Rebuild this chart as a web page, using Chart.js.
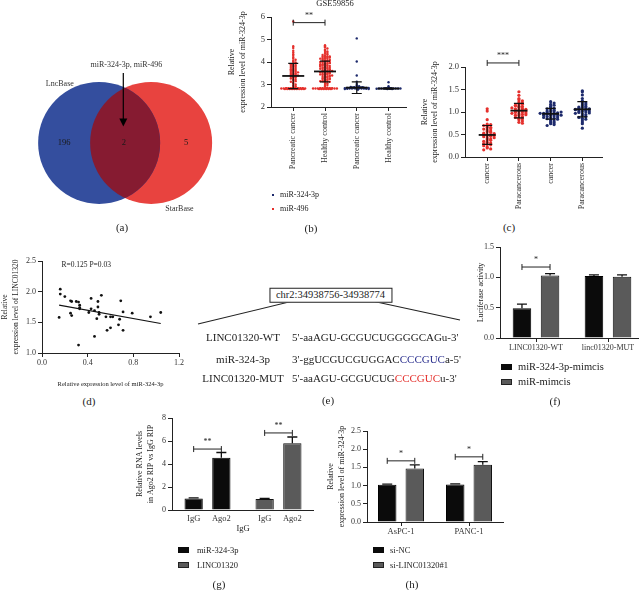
<!DOCTYPE html>
<html><head><meta charset="utf-8">
<script src="https://cdn.jsdelivr.net/npm/chart.js@4.4.0/dist/chart.umd.min.js"></script>
<style>
html,body{margin:0;padding:0;width:639px;height:590px;overflow:hidden;background:#fff}
canvas{position:absolute}
.t{position:absolute;white-space:nowrap;font-family:"Liberation Serif","Times New Roman",serif;color:#222;line-height:1}
.sw{position:absolute}
</style></head><body>
<script>
// ---------------- DATA ----------------
// (a) Venn
const vennSets = ['LncBase', 'StarBase'];
const vennCounts = [196, 2, 5];
const vennNote = 'miR-324-3p, miR-496';

// (b) GSE59856 scatter
const bTitle = 'GSE59856';
const bCategories = ['Pancreatic cancer', 'Healthy control', 'Pancreatic cancer', 'Healthy control'];
const bSeries = ['miR-324-3p', 'miR-496'];
const bPancMiR496 = [5.80, 4.70, 4.62, 4.50, 4.42, 4.35, 4.28, 4.20, 4.15, 4.10, 4.06, 4.02, 3.98, 3.95, 3.92, 3.90, 3.87, 3.85, 3.82, 3.80, 3.78, 3.75, 3.73, 3.70, 3.68, 3.66, 3.64, 3.62, 3.60, 3.58, 3.56, 3.54, 3.52, 3.50, 3.48, 3.46, 3.44, 3.42, 3.40, 3.38, 3.36, 3.34, 3.32, 3.30, 3.27, 3.24, 3.21, 3.18, 3.15, 3.12, 3.08, 3.04, 3.00, 2.96, 2.92, 2.88, 2.84, 2.82, 2.82, 2.82, 2.82, 2.82, 2.82, 2.82, 2.82, 2.82, 2.82, 2.82, 2.82, 2.80, 2.80, 2.80, 2.80, 2.80, 2.80, 2.80, 2.80, 2.80, 2.84, 2.84, 2.84, 2.84, 2.84, 2.84];
const bHealthyMiR496 = [4.75, 4.70, 4.65, 4.60, 4.55, 4.50, 4.47, 4.44, 4.40, 4.37, 4.34, 4.31, 4.28, 4.26, 4.24, 4.22, 4.20, 4.18, 4.16, 4.14, 4.12, 4.10, 4.08, 4.06, 4.04, 4.02, 4.00, 3.98, 3.96, 3.94, 3.92, 3.90, 3.88, 3.86, 3.84, 3.82, 3.80, 3.78, 3.76, 3.74, 3.72, 3.70, 3.68, 3.66, 3.64, 3.62, 3.60, 3.58, 3.56, 3.54, 3.52, 3.50, 3.48, 3.46, 3.44, 3.42, 3.40, 3.38, 3.36, 3.34, 3.32, 3.30, 3.28, 3.26, 3.24, 3.22, 3.20, 3.18, 3.16, 3.14, 3.12, 3.10, 3.06, 3.02, 2.98, 2.94, 2.90, 2.86, 4.25, 4.15, 4.05, 3.95, 3.85, 3.75, 3.65, 3.55, 3.45, 3.35, 3.25, 3.15, 4.20, 4.00, 3.90, 3.80, 3.70, 3.60, 3.50, 3.40, 2.82, 2.82, 2.82, 2.82, 2.82, 2.82, 2.82, 2.82, 2.82, 2.82, 2.82, 2.82, 2.80, 2.80, 2.80, 2.80, 2.80, 2.80, 2.84, 2.84, 2.84, 2.84];
const bPancMiR324 = [5.05, 4.02, 3.40, 3.12, 3.02, 2.96, 2.92, 2.90, 2.88, 2.88, 2.87, 2.86, 2.86, 2.85, 2.85, 2.85, 2.85, 2.84, 2.84, 2.84, 2.84, 2.83, 2.83, 2.83, 2.82, 2.82, 2.82, 2.82, 2.81, 2.81, 2.80, 2.80, 2.79, 2.78, 2.86, 2.87, 2.88, 2.89, 2.84, 2.83];
const bHealthyMiR324 = [3.10, 2.92, 2.86, 2.84, 2.83, 2.83, 2.82, 2.82, 2.82, 2.82, 2.82, 2.82, 2.82, 2.82, 2.81, 2.81, 2.81, 2.80, 2.80, 2.83, 2.84];
const bMeans = [3.38, 3.58, 2.86, 2.82];
const bSD = [0.56, 0.46, 0.26, 0.02];

// (c) tissue scatter
const cCategories = ['cancer', 'Paracancerous', 'cancer', 'Paracancerous'];
const cCancerRed = [1.07, 1.02, 0.83, 0.73, 0.72, 0.70, 0.68, 0.66, 0.65, 0.63, 0.60, 0.58, 0.56, 0.55, 0.53, 0.52, 0.50, 0.50, 0.49, 0.48, 0.47, 0.46, 0.45, 0.43, 0.42, 0.40, 0.38, 0.37, 0.35, 0.33, 0.31, 0.30, 0.28, 0.27, 0.25, 0.22, 0.20, 0.18, 0.16, 0.62];
const cParaRed = [1.45, 1.37, 1.30, 1.27, 1.25, 1.22, 1.20, 1.18, 1.17, 1.15, 1.13, 1.12, 1.10, 1.08, 1.07, 1.06, 1.05, 1.04, 1.03, 1.02, 1.01, 1.00, 0.99, 0.98, 0.97, 0.96, 0.95, 0.93, 0.92, 0.90, 0.88, 0.86, 0.85, 0.83, 0.80, 0.77, 0.75, 1.14, 1.09, 0.94];
const cCancerNavy = [1.23, 1.20, 1.17, 1.15, 1.13, 1.10, 1.08, 1.07, 1.05, 1.04, 1.02, 1.01, 1.00, 0.99, 0.98, 0.97, 0.96, 0.95, 0.95, 0.94, 0.93, 0.92, 0.91, 0.90, 0.89, 0.88, 0.87, 0.86, 0.85, 0.84, 0.82, 0.80, 0.78, 0.76, 0.74, 0.72, 0.70, 1.00, 0.97, 0.93];
const cParaNavy = [1.47, 1.45, 1.38, 1.30, 1.25, 1.22, 1.20, 1.18, 1.16, 1.14, 1.12, 1.10, 1.09, 1.08, 1.07, 1.06, 1.05, 1.04, 1.03, 1.02, 1.01, 1.00, 0.99, 0.98, 0.96, 0.94, 0.92, 0.90, 0.88, 0.86, 0.84, 0.82, 0.78, 0.74, 0.64, 1.11, 1.05, 0.97];
const cMeans = [0.49, 1.03, 0.96, 1.06];
const cSD = [0.21, 0.16, 0.12, 0.17];

// (d) correlation
const dStat = 'R=0.125 P=0.03';
const dMiR = [0.15, 0.16, 0.16, 0.20, 0.25, 0.26, 0.25, 0.26, 0.30, 0.32, 0.33, 0.33, 0.33, 0.32, 0.43, 0.43, 0.46, 0.49, 0.49, 0.50, 0.48, 0.52, 0.50, 0.46, 0.56, 0.57, 0.60, 0.60, 0.62, 0.67, 0.68, 0.69, 0.71, 0.71, 0.79, 0.95, 1.04, 0.41];
const dLinc = [1.58, 2.04, 1.96, 1.92, 1.65, 1.61, 1.85, 1.84, 1.84, 1.83, 1.78, 1.74, 1.72, 1.13, 1.89, 1.72, 1.69, 1.84, 1.75, 1.66, 1.56, 1.94, 1.63, 1.27, 1.59, 1.37, 1.41, 1.59, 1.59, 1.46, 1.55, 1.85, 1.67, 1.37, 1.65, 1.59, 1.66, 1.66];
const dFitX = [0.15, 1.04];
const dFitY = [1.78, 1.48];

// (e) binding sites
const eRegion = 'chr2:34938756-34938774';
const eNames = ['LINC01320-WT', 'miR-324-3p', 'LINC01320-MUT'];
const eSeqs = [["5'-aaAGU-GCGUCUGGGGCAGu-3'", '', ''], ["3'-ggUCGUCGUGGAC", 'CCCGUC', "a-5'"], ["5'-aaAGU-GCGUCUG", 'CCCGUC', "u-3'"]];

// (f) luciferase
const fGroups = ['LINC01320-WT', 'linc01320-MUT'];
const fSeries = ['miR-324-3p-mimcis', 'miR-mimcis'];
const fMimic324 = [0.49, 1.02];
const fMimicNC = [1.03, 1.01];
const fErr324 = [0.07, 0.02];
const fErrNC = [0.03, 0.03];

// (g) RIP
const gGroups = ['miR-324-3p', 'LINC01320'];
const gConditions = ['IgG', 'Ago2'];
const gIgG = [1.00, 0.96];
const gAgo2 = [4.55, 5.80];
const gErrIgG = [0.05, 0.04];
const gErrAgo2 = [0.45, 0.55];
const gAxisTitle = 'IgG';

// (h) knockdown
const hCells = ['AsPC-1', 'PANC-1'];
const hSeries = ['si-NC', 'si-LINC01320#1'];
const hSiNC = [1.02, 1.03];
const hSiLinc = [1.47, 1.57];
const hErrNC = [0.02, 0.02];
const hErrLinc = [0.10, 0.09];

// ---------------- STYLE / HELPERS ----------------
const SERIF = '"Liberation Serif","Times New Roman",serif';
Chart.defaults.font.family = SERIF;
Chart.defaults.color = '#333';
Chart.defaults.animation = false;
Chart.defaults.events = [];
Chart.defaults.plugins.legend.display = false;
Chart.defaults.plugins.tooltip.enabled = false;
const AX = '#222', RED = '#e5302c', NAVY = '#1d2a6c', BLK = '#0b0b0b', GRY = '#5a5a5a';

function mk(left, top, w, h) {
  const c = document.createElement('canvas');
  c.width = w; c.height = h;
  c.style.left = left + 'px'; c.style.top = top + 'px';
  c.style.width = w + 'px'; c.style.height = h + 'px';
  document.body.appendChild(c);
  return c;
}
function txt(s, x, y, size, align, color) {
  const d = document.createElement('div');
  d.className = 't'; d.textContent = s;
  d.style.fontSize = size + 'px'; d.style.left = x + 'px'; d.style.top = y + 'px';
  d.style.transform = align === 'left' ? 'translate(0,-50%)' : 'translate(-50%,-50%)';
  if (color) d.style.color = color;
  document.body.appendChild(d); return d;
}
function swatch(x, y, w, h, fill, border) {
  const d = document.createElement('div'); d.className = 'sw';
  d.style.left = x + 'px'; d.style.top = y + 'px'; d.style.width = w + 'px'; d.style.height = h + 'px';
  d.style.background = fill; d.style.boxSizing = 'border-box';
  if (border) d.style.border = '1px solid ' + border;
  document.body.appendChild(d);
}
function yAxis(o) {
  return {
    type: 'linear', position: 'left', min: o.min, max: o.max,
    ticks: {stepSize: o.step, font: {size: o.fs || 8.5}, color: '#333', padding: 2, callback: o.fmt || (v => v)},
    grid: {drawOnChartArea: false, drawTicks: true, tickLength: 4, color: AX, lineWidth: 1},
    border: {display: true, color: AX, width: 1},
    title: o.title ? {display: true, text: o.title, font: {size: o.tfs || 8, lineHeight: o.lh || 1.35}, color: '#222', padding: 0} : {display: false},
    afterFit(s) { s.width = o.w; }
  };
}
function swarm(values, center, step, bin, maxHalf) {
  const counts = {};
  const half = Math.floor(maxHalf / step), nSlots = half * 2 + 1;
  return values.map(v => {
    const key = Math.round(v / bin);
    const k = counts[key] || 0; counts[key] = k + 1;
    const m = k % nSlots, wrap = Math.floor(k / nSlots);
    let off = m === 0 ? 0 : (m % 2 ? 1 : -1) * Math.ceil(m / 2) * step;
    if (wrap % 2) off += (off > 0 ? -1 : 1) * step / 2;
    return {x: center + off, y: v};
  });
}
function resolveX(chart, spec) {
  if (Array.isArray(spec)) return chart.getDatasetMeta(spec[0]).data[spec[1]].x;
  return chart.scales.x.getPixelForValue(spec);
}
function bracketsPlugin(items, fs) {
  return {id: 'brackets', afterDatasetsDraw(chart) {
    const ctx = chart.ctx, ys = chart.scales.y;
    items.forEach(it => {
      const x1 = resolveX(chart, it.a), x2 = resolveX(chart, it.b), y = ys.getPixelForValue(it.y);
      ctx.save(); ctx.strokeStyle = '#222'; ctx.lineWidth = 1;
      ctx.beginPath(); ctx.moveTo(x1, y); ctx.lineTo(x2, y);
      ctx.moveTo(x1, y - 3); ctx.lineTo(x1, y + 3); ctx.moveTo(x2, y - 3); ctx.lineTo(x2, y + 3); ctx.stroke();
      ctx.fillStyle = '#222'; ctx.font = (fs || 9) + 'px ' + SERIF; ctx.textAlign = 'center'; ctx.textBaseline = 'middle';
      ctx.fillText(it.text, (x1 + x2) / 2, y - 7);
      ctx.restore();
    });
  }};
}
function errPlugin(errs) {
  return {id: 'errbars', afterDatasetsDraw(chart) {
    const ctx = chart.ctx, ys = chart.scales.y;
    errs.forEach((list, di) => {
      const meta = chart.getDatasetMeta(di), vals = chart.data.datasets[di].data;
      meta.data.forEach((el, j) => {
        const top = ys.getPixelForValue(vals[j] + list[j]);
        ctx.save(); ctx.strokeStyle = '#111'; ctx.lineWidth = 1.3;
        ctx.beginPath(); ctx.moveTo(el.x, el.y); ctx.lineTo(el.x, top);
        ctx.moveTo(el.x - 5, top); ctx.lineTo(el.x + 5, top); ctx.stroke(); ctx.restore();
      });
    });
  }};
}
function meanSDPlugin(means, sds, halfMean, halfCap) {
  return {id: 'meansd', afterDatasetsDraw(chart) {
    const ctx = chart.ctx, xs = chart.scales.x, ys = chart.scales.y;
    means.forEach((m, i) => {
      const x = xs.getPixelForValue(i), y = ys.getPixelForValue(m);
      const yt = ys.getPixelForValue(m + sds[i]), yb = ys.getPixelForValue(m - sds[i]);
      ctx.save(); ctx.strokeStyle = '#111';
      ctx.lineWidth = 1.2; ctx.beginPath();
      ctx.moveTo(x, yt); ctx.lineTo(x, yb);
      ctx.moveTo(x - halfCap, yt); ctx.lineTo(x + halfCap, yt);
      ctx.moveTo(x - halfCap, yb); ctx.lineTo(x + halfCap, yb); ctx.stroke();
      ctx.lineWidth = 1.8; ctx.beginPath(); ctx.moveTo(x - halfMean, y); ctx.lineTo(x + halfMean, y); ctx.stroke();
      ctx.restore();
    });
  }};
}
function catXAxis(labels, min, max, h, fs) {
  return {
    type: 'linear', min: min, max: max,
    afterBuildTicks(s) { s.ticks = labels.map((_, i) => ({value: i})); },
    ticks: {autoSkip: false, minRotation: 90, maxRotation: 90, font: {size: fs || 8}, color: '#333', padding: 2,
      callback: v => labels[Math.round(v)]},
    grid: {drawOnChartArea: false, drawTicks: true, tickLength: 4, color: AX},
    border: {display: true, color: AX, width: 1},
    afterFit(s) { s.height = h; }
  };
}
function barXAxis(labels, h, fs, showTicks, title) {
  return {
    type: 'category', offset: true,
    ticks: {display: showTicks, font: {size: fs || 8}, color: '#333', padding: 1, maxRotation: 0, autoSkip: false},
    grid: {offset: false, drawOnChartArea: false, drawTicks: showTicks, tickLength: 4, color: AX},
    border: {display: true, color: AX, width: 1},
    title: title ? {display: true, text: title, font: {size: 8.5, lineHeight: 1.2}, color: '#222', padding: 0} : {display: false},
    afterFit(s) { s.height = h; }
  };
}

// ---------------- (a) VENN ----------------
(function () {
  const c = mk(0, 40, 235, 190);
  const R = 61;
  const vennPlugin = {id: 'venn', afterDatasetsDraw(chart) {
    const ctx = chart.ctx, xs = chart.scales.x, ys = chart.scales.y;
    const e0 = chart.getDatasetMeta(0).data[0], e1 = chart.getDatasetMeta(1).data[0];
    ctx.save();
    ctx.beginPath(); ctx.arc(e0.x, e0.y, R, 0, Math.PI * 2); ctx.clip();
    ctx.beginPath(); ctx.arc(e1.x, e1.y, R, 0, Math.PI * 2); ctx.fillStyle = '#861b31'; ctx.fill();
    ctx.restore();
    const P = (x, y) => [xs.getPixelForValue(x), ys.getPixelForValue(y)];
    ctx.save(); ctx.fillStyle = '#1a1a1a'; ctx.textAlign = 'center'; ctx.textBaseline = 'middle';
    ctx.font = '8.5px ' + SERIF;
    let p = P(-1.0, 0); ctx.fillText(String(vennCounts[0]), p[0], p[1]);
    p = P(-0.02, 0); ctx.fillText(String(vennCounts[1]), p[0], p[1]);
    p = P(1.0, 0); ctx.fillText(String(vennCounts[2]), p[0], p[1]);
    ctx.font = '8px ' + SERIF; ctx.fillStyle = '#333';
    p = P(-1.07, 0.97); ctx.fillText(vennSets[0], p[0], p[1]);
    p = P(0.89, -1.08); ctx.fillText(vennSets[1], p[0], p[1]);
    p = P(0.02, 1.28); ctx.fillText(vennNote, p[0], p[1]);
    const a = P(-0.03, 1.15), b = P(-0.03, 0.27);
    ctx.strokeStyle = '#000'; ctx.lineWidth = 1.2; ctx.beginPath(); ctx.moveTo(a[0], a[1]); ctx.lineTo(b[0], b[1] - 6); ctx.stroke();
    ctx.fillStyle = '#000'; ctx.beginPath(); ctx.moveTo(b[0] - 4, b[1] - 8); ctx.lineTo(b[0] + 4, b[1] - 8); ctx.lineTo(b[0], b[1]); ctx.closePath(); ctx.fill();
    ctx.restore();
  }};
  new Chart(c, {
    type: 'scatter',
    data: {datasets: [
      {label: vennSets[0], data: [{x: -0.426, y: 0}], pointRadius: R, backgroundColor: '#344e9e', borderWidth: 0, clip: false},
      {label: vennSets[1], data: [{x: 0.426, y: 0}], pointRadius: R, backgroundColor: '#e8433f', borderWidth: 0, clip: false}
    ]},
    options: {responsive: false, devicePixelRatio: 1, layout: {padding: 0, autoPadding: false},
      scales: {x: {display: false, min: -2.05, max: 1.80}, y: {display: false, min: -1.43, max: 1.69}}},
    plugins: [vennPlugin]
  });
})();

// ---------------- (b) ----------------
(function () {
  const c = mk(226, 0, 184, 180);
  new Chart(c, {
    type: 'scatter',
    data: {datasets: [
      {label: bSeries[1], data: swarm(bPancMiR496, 0, 0.075, 0.07, 0.38), backgroundColor: RED, pointRadius: 1.2, borderWidth: 0},
      {label: bSeries[1], data: swarm(bHealthyMiR496, 1, 0.075, 0.07, 0.38), backgroundColor: RED, pointRadius: 1.2, borderWidth: 0},
      {label: bSeries[0], data: swarm(bPancMiR324, 2, 0.075, 0.07, 0.38), backgroundColor: NAVY, pointRadius: 1.2, borderWidth: 0},
      {label: bSeries[0], data: swarm(bHealthyMiR324, 3, 0.075, 0.07, 0.38), backgroundColor: NAVY, pointRadius: 1.2, borderWidth: 0}
    ]},
    options: {responsive: false, devicePixelRatio: 1, layout: {padding: {top: 17, right: 3, left: 0, bottom: 0}},
      scales: {
        x: catXAxis(bCategories, -0.7, 3.55, 73, 8),
        y: yAxis({min: 2, max: 6, step: 1, w: 45, title: ['Relative', 'expression level of miR-324-3p'], lh: 1.375})
      }},
    plugins: [meanSDPlugin(bMeans, bSD, 11, 5), bracketsPlugin([{a: 0, b: 1, y: 5.75, text: '**'}], 8)]
  });
  txt(bTitle, 335, 3, 8.5);
  swatch(272, 194, 2, 2, NAVY); txt(bSeries[0], 280, 195, 8, 'left');
  swatch(272, 208, 2, 2, RED); txt(bSeries[1], 280, 209, 8, 'left');
  txt('(b)', 311, 228, 11);
})();

// ---------------- (c) ----------------
(function () {
  const c = mk(420, 40, 190, 180);
  new Chart(c, {
    type: 'scatter',
    data: {datasets: [
      {data: swarm(cCancerRed, 0, 0.11, 0.045, 0.4), backgroundColor: RED, pointRadius: 1.6, borderWidth: 0},
      {data: swarm(cParaRed, 1, 0.11, 0.045, 0.4), backgroundColor: RED, pointRadius: 1.6, borderWidth: 0},
      {data: swarm(cCancerNavy, 2, 0.11, 0.045, 0.4), backgroundColor: NAVY, pointRadius: 1.6, borderWidth: 0},
      {data: swarm(cParaNavy, 3, 0.11, 0.045, 0.4), backgroundColor: NAVY, pointRadius: 1.6, borderWidth: 0}
    ]},
    options: {responsive: false, devicePixelRatio: 1, layout: {padding: {top: 27, right: 8, left: 0, bottom: 0}},
      scales: {
        x: catXAxis(cCategories, -0.7, 3.62, 63, 8),
        y: yAxis({min: 0, max: 2, step: 0.5, w: 45, title: ['Relative', 'expression level of miR-324-3p'], lh: 1.25, fmt: v => v.toFixed(1)})
      }},
    plugins: [meanSDPlugin(cMeans, cSD, 8.5, 5), bracketsPlugin([{a: 0, b: 1, y: 2.09, text: '***'}], 8)]
  });
  txt('(c)', 509, 227, 11);
})();

// ---------------- (d) ----------------
(function () {
  const c = mk(0, 250, 190, 138);
  const statPlugin = {id: 'stat', afterDatasetsDraw(chart) {
    const ctx = chart.ctx;
    ctx.save(); ctx.fillStyle = '#222'; ctx.font = '7.5px ' + SERIF; ctx.textAlign = 'left'; ctx.textBaseline = 'middle';
    ctx.fillText(dStat, chart.scales.x.getPixelForValue(0.17), chart.scales.y.getPixelForValue(2.43));
    ctx.restore();
  }};
  new Chart(c, {
    type: 'scatter',
    data: {datasets: [
      {data: dMiR.map((x, i) => ({x: x, y: dLinc[i]})), backgroundColor: '#111', pointRadius: 1.4, borderWidth: 0},
      {type: 'line', data: dFitX.map((x, i) => ({x: x, y: dFitY[i]})), borderColor: '#111', borderWidth: 1.1, pointRadius: 0, showLine: true}
    ]},
    options: {responsive: false, devicePixelRatio: 1, layout: {padding: {top: 11, right: 11, left: 0, bottom: 0}},
      scales: {
        x: {type: 'linear', min: 0, max: 1.2,
          ticks: {stepSize: 0.4, font: {size: 8}, color: '#333', padding: 1, maxRotation: 0, callback: v => v.toFixed(1)},
          grid: {drawOnChartArea: false, drawTicks: true, tickLength: 4, color: AX},
          border: {display: true, color: AX, width: 1},
          title: {display: true, text: 'Relative expression level of miR-324-3p', font: {size: 6.5, lineHeight: 1.2}, color: '#222', padding: 0},
          afterFit(s) { s.height = 35; }},
        y: yAxis({min: 1, max: 2.5, step: 0.5, w: 42, fs: 8, title: ['Relative', 'expression level of LINC01320'], tfs: 7.5, lh: 1.45, fmt: v => v.toFixed(1)})
      }},
    plugins: [statPlugin]
  });
  txt('(d)', 89, 401, 11);
})();

// ---------------- (e) ----------------
(function () {
  const ns = 'http://www.w3.org/2000/svg';
  const svg = document.createElementNS(ns, 'svg');
  svg.setAttribute('width', '639'); svg.setAttribute('height', '590');
  svg.style.position = 'absolute'; svg.style.left = '0'; svg.style.top = '0';
  [[293, 301, 198, 324], [372, 301, 460, 320]].forEach(l => {
    const ln = document.createElementNS(ns, 'line');
    ln.setAttribute('x1', l[0]); ln.setAttribute('y1', l[1]); ln.setAttribute('x2', l[2]); ln.setAttribute('y2', l[3]);
    ln.setAttribute('stroke', '#222'); ln.setAttribute('stroke-width', '1.1');
    svg.appendChild(ln);
  });
  document.body.appendChild(svg);
  const box = txt(eRegion, 330.5, 295, 10.5);
  box.style.border = '1px solid #222'; box.style.padding = '1px 6px 1px 6px'; box.style.background = '#fff';
  const rowsY = [337, 359, 378];
  const hi = ['', '#2c318f', '#e5302c'];
  eNames.forEach((n, i) => {
    txt(n, 243, rowsY[i], 11);
    const d = txt('', 292, rowsY[i], 11, 'left');
    const s0 = document.createElement('span'); s0.textContent = eSeqs[i][0]; d.appendChild(s0);
    const s1 = document.createElement('span'); s1.textContent = eSeqs[i][1]; s1.style.color = hi[i]; d.appendChild(s1);
    const s2 = document.createElement('span'); s2.textContent = eSeqs[i][2]; d.appendChild(s2);
  });
  txt('(e)', 328, 400, 11);
})();

// ---------------- (f) ----------------
(function () {
  const c = mk(476, 235, 168, 120);
  new Chart(c, {
    type: 'bar',
    data: {labels: fGroups, datasets: [
      {label: fSeries[0], data: fMimic324, backgroundColor: BLK, borderColor: '#000', borderWidth: 1, categoryPercentage: 0.78, barPercentage: 0.66},
      {label: fSeries[1], data: fMimicNC, backgroundColor: GRY, borderColor: '#111', borderWidth: 1, categoryPercentage: 0.78, barPercentage: 0.66}
    ]},
    options: {responsive: false, devicePixelRatio: 1, layout: {padding: {top: 12, right: 0, left: 0, bottom: 0}},
      scales: {
        x: barXAxis(fGroups, 17, 8, true),
        y: yAxis({min: 0, max: 1.5, step: 0.5, w: 24, fs: 8, title: 'Luciferase activity', tfs: 8, fmt: v => v.toFixed(1)})
      }},
    plugins: [errPlugin([fErr324, fErrNC]), bracketsPlugin([{a: [0, 0], b: [1, 0], y: 1.17, text: '*'}], 8)]
  });
  swatch(501, 364, 11, 6, BLK);
  txt(fSeries[0], 518, 367, 10.5, 'left');
  swatch(501, 379, 11, 6, GRY, '#222');
  txt(fSeries[1], 518, 382, 10.5, 'left');
  txt('(f)', 555, 401, 11);
})();

// ---------------- (g) ----------------
(function () {
  const c = mk(134, 405, 180, 129);
  const barLabels = {id: 'barlabels', afterDatasetsDraw(chart) {
    const ctx = chart.ctx, bottom = chart.chartArea.bottom;
    ctx.save(); ctx.fillStyle = '#333'; ctx.font = '8.5px ' + SERIF; ctx.textAlign = 'center'; ctx.textBaseline = 'middle';
    chart.data.datasets.forEach((ds, di) => {
      chart.getDatasetMeta(di).data.forEach(el => ctx.fillText(ds.label, el.x, bottom + 9));
    });
    ctx.restore();
  }};
  new Chart(c, {
    type: 'bar',
    data: {labels: gGroups, datasets: [
      {label: gConditions[0], data: gIgG, backgroundColor: [BLK, GRY], borderColor: ['#000', '#111'], borderWidth: 1, categoryPercentage: 0.78, barPercentage: 0.66},
      {label: gConditions[1], data: gAgo2, backgroundColor: [BLK, GRY], borderColor: ['#000', '#111'], borderWidth: 1, categoryPercentage: 0.78, barPercentage: 0.66}
    ]},
    options: {responsive: false, devicePixelRatio: 1, layout: {padding: {top: 13, right: 0, left: 0, bottom: 0}},
      scales: {
        x: barXAxis(gGroups, 24, 8, false, gAxisTitle),
        y: yAxis({min: 0, max: 8, step: 2, w: 38, fs: 8, title: ['Relative RNA levels', 'in Ago2 RIP vs IgG RIP'], tfs: 8, lh: 1.375})
      }},
    plugins: [errPlugin([gErrIgG, gErrAgo2]), barLabels,
      bracketsPlugin([{a: [0, 0], b: [1, 0], y: 5.3, text: '**'}, {a: [0, 1], b: [1, 1], y: 6.7, text: '**'}], 8)]
  });
  swatch(178, 547, 11, 6, BLK);
  txt(gGroups[0], 197, 550, 8.5, 'left');
  swatch(178, 562, 11, 6, GRY, '#222');
  txt(gGroups[1], 197, 565, 8.5, 'left');
  txt('(g)', 219, 584, 11);
})();

// ---------------- (h) ----------------
(function () {
  const c = mk(325, 420, 181, 120);
  new Chart(c, {
    type: 'bar',
    data: {labels: hCells, datasets: [
      {label: hSeries[0], data: hSiNC, backgroundColor: BLK, borderColor: '#000', borderWidth: 1, categoryPercentage: 0.81, barPercentage: 0.67},
      {label: hSeries[1], data: hSiLinc, backgroundColor: GRY, borderColor: '#111', borderWidth: 1, categoryPercentage: 0.81, barPercentage: 0.67}
    ]},
    options: {responsive: false, devicePixelRatio: 1, layout: {padding: {top: 11, right: 3, left: 0, bottom: 0}},
      scales: {
        x: barXAxis(hCells, 18, 8.5, true),
        y: yAxis({min: 0, max: 2.5, step: 0.5, w: 42, fs: 8, title: ['Relative', 'expression level of miR-324-3p'], tfs: 8, lh: 1.375, fmt: v => v.toFixed(1)})
      }},
    plugins: [errPlugin([hErrNC, hErrLinc]),
      bracketsPlugin([{a: [0, 0], b: [1, 0], y: 1.68, text: '*'}, {a: [0, 1], b: [1, 1], y: 1.79, text: '*'}], 8)]
  });
  swatch(373, 547, 11, 6, BLK);
  txt(hSeries[0], 390, 550, 8.5, 'left');
  swatch(373, 562, 11, 6, GRY, '#222');
  txt(hSeries[1], 390, 565, 8.5, 'left');
  txt('(h)', 412, 584, 11);
})();

txt('(a)', 122, 227, 11);
</script>
</body></html>
